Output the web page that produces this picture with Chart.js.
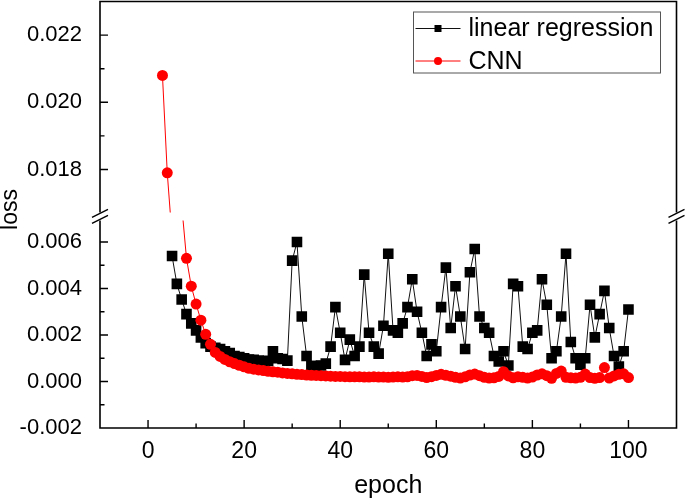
<!DOCTYPE html>
<html>
<head>
<meta charset="utf-8">
<script src="https://cdn.jsdelivr.net/npm/chart.js@4.4.1/dist/chart.umd.min.js"></script>
<style>
  body { margin: 0; background: #fff; }
  #chart { display: block; }
</style>
</head>
<body>
<canvas id="chart" width="685" height="500"></canvas>
<script>
// Data
const lrEpochs = [5, 6, 7, 8, 9, 10, 11, 12, 13, 14, 15, 16, 17, 18, 19, 20,
  21, 22, 23, 24, 25, 26, 27, 28, 29, 30, 31, 32, 33, 34, 35, 36, 37, 38, 39, 40,
  41, 42, 43, 44, 45, 46, 47, 48, 49, 50, 51, 52, 53, 54, 55, 56, 57, 58, 59, 60,
  61, 62, 63, 64, 65, 66, 67, 68, 69, 70, 71, 72, 73, 74, 75, 76, 77, 78, 79, 80,
  81, 82, 83, 84, 85, 86, 87, 88, 89, 90, 91, 92, 93, 94, 95, 96, 97, 98, 99, 100];
const lrLoss = [0.0054, 0.0042, 0.00353, 0.0029, 0.0025, 0.0022, 0.0019, 0.00165, 0.0015, 0.00145, 0.0014, 0.0013, 0.00122, 0.0011, 0.00105, 0.001,
  0.00095, 0.00093, 0.0009, 0.00086, 0.00089, 0.0013, 0.001, 0.00097, 0.0009, 0.0052, 0.006, 0.0028, 0.0011, 0.00067, 0.00067, 0.00069, 0.00077, 0.0015, 0.0032, 0.0021,
  0.00093, 0.0018, 0.0011, 0.0015, 0.0046, 0.0021, 0.0015, 0.0012, 0.0024, 0.0055, 0.0022, 0.0021, 0.0025, 0.0032, 0.0044, 0.003, 0.0021, 0.0011, 0.0016, 0.0013,
  0.0032, 0.0049, 0.0023, 0.0041, 0.0028, 0.0014, 0.0047, 0.0057, 0.0028, 0.0023, 0.0021, 0.0011, 0.00086, 0.0013, 0.00069, 0.0042, 0.0041, 0.0015, 0.0014, 0.0021,
  0.0022, 0.0044, 0.0033, 0.001, 0.0013, 0.0028, 0.0055, 0.0017, 0.001, 0.00072, 0.001, 0.0033, 0.0019, 0.0029, 0.0039, 0.0023, 0.0011, 0.00064, 0.0013, 0.0031];

const cnnEpochs = [3, 4, 5, 6, 7, 8, 9, 10, 11, 12, 13, 14, 15, 16, 17, 18, 19, 20,
  21, 22, 23, 24, 25, 26, 27, 28, 29, 30, 31, 32, 33, 34, 35, 36, 37, 38, 39, 40,
  41, 42, 43, 44, 45, 46, 47, 48, 49, 50, 51, 52, 53, 54, 55, 56, 57, 58, 59, 60,
  61, 62, 63, 64, 65, 66, 67, 68, 69, 70, 71, 72, 73, 74, 75, 76, 77, 78, 79, 80,
  81, 82, 83, 84, 85, 86, 87, 88, 89, 90, 91, 92, 93, 94, 95, 96, 97, 98, 99, 100];
// epochs 5-7 fall inside the axis break and are hidden
const cnnLoss = [0.0208, 0.0179, 0.016, 0.0105, 0.0076, 0.0053, 0.0041, 0.00333, 0.00264, 0.00203, 0.0016, 0.00125, 0.00108, 0.00095, 0.00085, 0.00077, 0.0007, 0.00063,
  0.00057, 0.00053, 0.0005, 0.00047, 0.00044, 0.00042, 0.0004, 0.00037, 0.00035, 0.00033, 0.00031, 0.0003, 0.00028, 0.00027, 0.00026, 0.00025, 0.00024, 0.00023, 0.00022, 0.00022,
  0.00021, 0.0002, 0.0002, 0.0002, 0.00019, 0.00019, 0.0002, 0.00019, 0.00019, 0.00018, 0.00019, 0.0002, 0.00019, 0.0002, 0.00025, 0.00026, 0.00022, 0.00017, 0.00021, 0.00026,
  0.00031, 0.00027, 0.00023, 0.00018, 0.00015, 0.0002, 0.00028, 0.00032, 0.00025, 0.00018, 0.00015, 0.00016, 0.00022, 0.00042, 0.00024, 0.00016, 0.0002, 0.00018, 0.00015, 0.00019,
  0.00028, 0.00033, 0.00025, 0.00014, 0.00035, 0.00045, 0.00018, 0.00016, 0.00015, 0.00018, 0.00032, 0.00017, 0.00014, 0.00017, 0.0006, 0.00015, 0.00024, 0.00031, 0.00033, 0.00017];

const xTickLabels = ['0', '20', '40', '60', '80', '100'];
const yTickLabels = ['-0.002', '0.000', '0.002', '0.004', '0.006', '0.018', '0.020', '0.022'];

const FONT = 'Liberation Sans, Arial, sans-serif';

function toPoints(xs, ys) {
  return xs.map((x, i) => ({ x: x, y: ys[i] }));
}

function isWhole(v, step) {
  const n = v / step;
  return Math.abs(n - Math.round(n)) < 1e-6;
}

// y labels only where the value is in the tick label list
function yLabel(value) {
  if (!isWhole(value, 0.001)) return '';
  const s = value.toFixed(3);
  return yTickLabels.includes(s) ? s : '';
}

function xLabel(value) {
  const s = String(Math.round(value));
  return isWhole(value, 1) && xTickLabels.includes(s) ? s : '';
}

// y axes: fixed width, no extra padding for the end labels
function fitY(s) {
  s.width = 80;
  s.paddingTop = 0;
  s.paddingBottom = 0;
}

// Clip every dataset to its own y segment, leaving a small gap at the break
const segmentClip = {
  id: 'segmentClip',
  beforeDatasetDraw(chart, args) {
    const ys = args.meta.yScale;
    const area = chart.chartArea;
    let top = ys.top, bottom = ys.bottom;
    if (ys.id === 'yHigh') bottom -= 4;
    if (ys.id === 'yLow') top += 4;
    const ctx = chart.ctx;
    ctx.save();
    ctx.beginPath();
    ctx.rect(area.left, top, area.right - area.left, bottom - top);
    ctx.clip();
  },
  afterDatasetDraw(chart) {
    chart.ctx.restore();
  }
};

// Frame, inward ticks, break marks, y title and legend
const decorations = {
  id: 'decorations',
  afterDraw(chart) {
    const ctx = chart.ctx;
    const a = chart.chartArea;
    const xs = chart.scales.x;
    const brk = chart.scales.yHigh.bottom;
    ctx.save();
    ctx.strokeStyle = '#000';
    ctx.lineWidth = 1.6;

    // frame with gaps at the break
    ctx.beginPath();
    ctx.moveTo(a.left, brk - 4); ctx.lineTo(a.left, a.top); ctx.lineTo(a.right, a.top); ctx.lineTo(a.right, brk - 4);
    ctx.moveTo(a.left, brk + 4); ctx.lineTo(a.left, a.bottom); ctx.lineTo(a.right, a.bottom); ctx.lineTo(a.right, brk + 4);
    ctx.stroke();

    // break marks
    ctx.lineWidth = 1.4;
    ctx.beginPath();
    [a.left, a.right].forEach(x => {
      ctx.moveTo(x - 8, brk + 1); ctx.lineTo(x + 8, brk - 7);
      ctx.moveTo(x - 8, brk + 7); ctx.lineTo(x + 8, brk - 1);
    });
    ctx.stroke();

    // inward ticks on the left axis
    ctx.beginPath();
    ['yHigh', 'yLow'].forEach(id => {
      const s = chart.scales[id];
      s.ticks.forEach(t => {
        if (!isWhole(t.value, 0.001)) return;
        const y = s.getPixelForValue(t.value);
        if (y < s.top + 4 || y > s.bottom - 1) return;
        const len = isWhole(t.value, 0.002) ? 8 : 4.5;
        ctx.moveTo(a.left, y); ctx.lineTo(a.left + len, y);
      });
    });
    // inward ticks on the bottom axis
    xs.ticks.forEach(t => {
      if (t.value < 0 || t.value > 100) return;
      const x = xs.getPixelForValue(t.value);
      const len = isWhole(t.value, 20) ? 8 : 4.5;
      ctx.moveTo(x, a.bottom); ctx.lineTo(x, a.bottom - len);
    });
    ctx.stroke();

    // y axis title
    ctx.fillStyle = '#000';
    ctx.font = '23px ' + FONT;
    ctx.textAlign = 'center';
    ctx.textBaseline = 'middle';
    ctx.translate(11, brk - 7);
    ctx.rotate(-Math.PI / 2);
    ctx.fillText('loss', 0, 0);
    ctx.restore();

    // legend
    ctx.save();
    const lx = a.right - 263, ly = a.top + 10.5;
    ctx.strokeStyle = '#555';
    ctx.lineWidth = 1;
    ctx.strokeRect(lx, ly, 247, 61);
    const rows = [
      { ds: chart.data.datasets[2], y: ly + 16.5 },
      { ds: chart.data.datasets[0], y: ly + 49 }
    ];
    rows.forEach(r => {
      ctx.strokeStyle = r.ds.borderColor;
      ctx.lineWidth = 1;
      ctx.beginPath();
      ctx.moveTo(lx + 2, r.y); ctx.lineTo(lx + 47, r.y);
      ctx.stroke();
      ctx.fillStyle = r.ds.backgroundColor;
      ctx.beginPath();
      if (r.ds.pointStyle === 'rect') ctx.rect(lx + 21, r.y - 3.5, 7, 7);
      else ctx.arc(lx + 24.5, r.y, 4, 0, Math.PI * 2);
      ctx.fill();
      ctx.fillStyle = '#000';
      ctx.font = '25px ' + FONT;
      ctx.textAlign = 'left';
      ctx.textBaseline = 'middle';
      ctx.fillText(r.ds.label, lx + 55, r.y + 1);
    });
    ctx.restore();
  }
};

const cnnStyle = {
  label: 'CNN',
  borderColor: '#ff0000',
  backgroundColor: '#ff0000',
  borderWidth: 1,
  pointStyle: 'circle',
  pointRadius: 5.5,
  pointBorderWidth: 0,
  tension: 0
};

const ctx = document.getElementById('chart').getContext('2d');
new Chart(ctx, {
  type: 'line',
  data: {
    datasets: [
      Object.assign({}, cnnStyle, { data: toPoints(cnnEpochs, cnnLoss), yAxisID: 'yLow' }),
      Object.assign({}, cnnStyle, { data: toPoints(cnnEpochs, cnnLoss), yAxisID: 'yHigh' }),
      {
        label: 'linear regression',
        data: toPoints(lrEpochs, lrLoss),
        yAxisID: 'yLow',
        borderColor: '#111',
        backgroundColor: '#000',
        borderWidth: 1,
        pointStyle: 'rect',
        pointRadius: 7.5,
        pointBorderWidth: 0,
        tension: 0
      }
    ]
  },
  options: {
    responsive: false,
    animation: false,
    devicePixelRatio: 1,
    layout: { autoPadding: false, padding: { left: 20, right: 8.5, top: 1.5, bottom: 0 } },
    plugins: {
      legend: { display: false },
      tooltip: { enabled: false }
    },
    scales: {
      x: {
        type: 'linear',
        min: -10,
        max: 110,
        grid: { display: false },
        border: { display: false },
        ticks: {
          stepSize: 10, autoSkip: false, maxRotation: 0, padding: 2,
          color: '#000', font: { family: FONT, size: 23 },
          callback: xLabel
        },
        title: {
          display: true, text: 'epoch', color: '#000',
          font: { family: FONT, size: 25, lineHeight: 1 },
          padding: { top: 0, bottom: 1 }
        },
        afterFit: s => { s.height = 72; }
      },
      yLow: {
        type: 'linear',
        position: 'left',
        stack: 'loss',
        stackWeight: 212.5,
        weight: 0,
        min: -0.002,
        max: 0.0071,
        grid: { display: false },
        border: { display: false },
        ticks: {
          stepSize: 0.001, autoSkip: false, maxTicksLimit: 100, padding: 10,
          color: '#000', font: { family: FONT, size: 22 },
          callback: yLabel
        },
        afterFit: fitY
      },
      yHigh: {
        type: 'linear',
        position: 'left',
        stack: 'loss',
        stackWeight: 216,
        weight: 1,
        min: 0.0166,
        max: 0.023,
        grid: { display: false },
        border: { display: false },
        ticks: {
          stepSize: 0.001, autoSkip: false, maxTicksLimit: 100, padding: 10,
          color: '#000', font: { family: FONT, size: 22 },
          callback: yLabel
        },
        afterFit: fitY
      }
    }
  },
  plugins: [segmentClip, decorations]
});
</script>
</body>
</html>
